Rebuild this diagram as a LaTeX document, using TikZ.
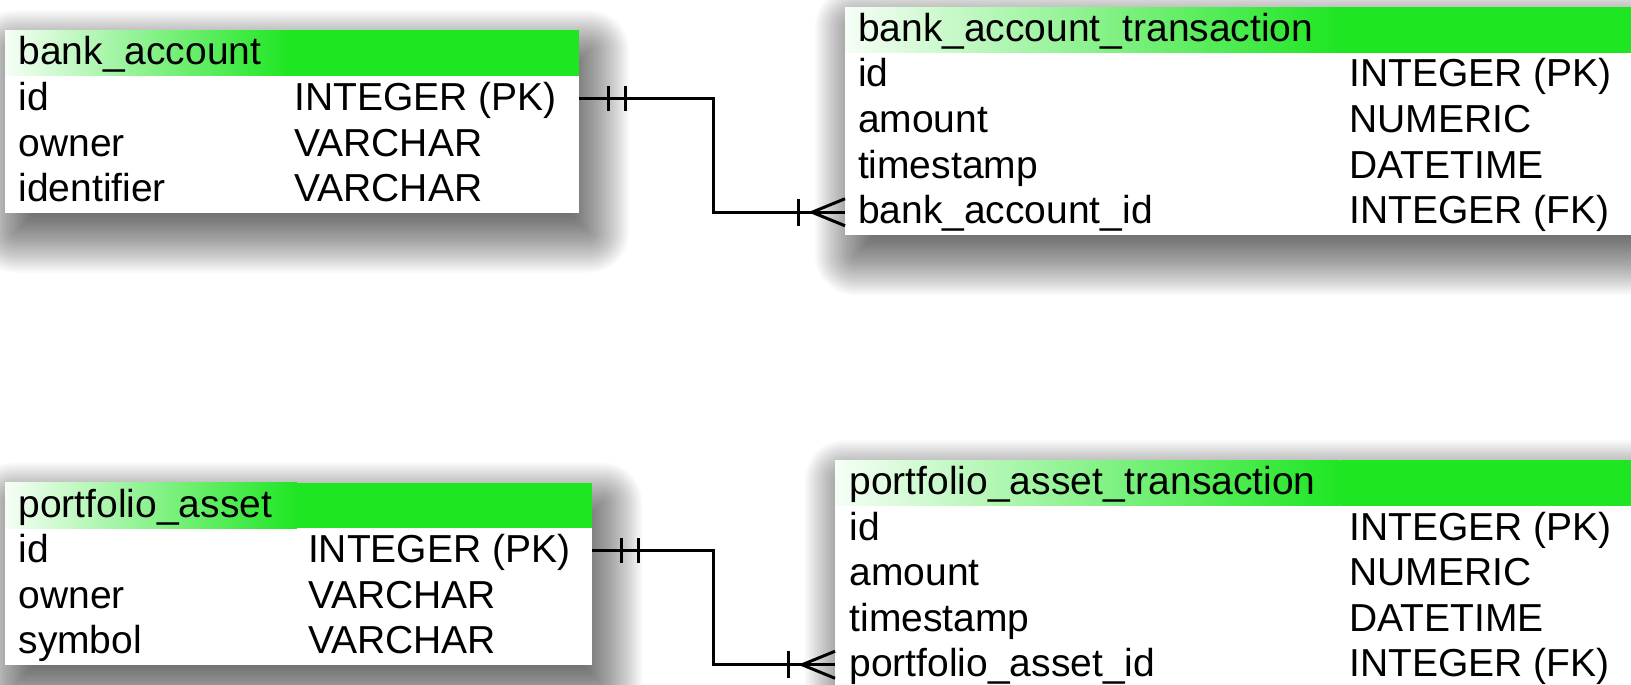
\documentclass[tikz,border=0pt]{standalone}
\usepackage{fontspec}
\setmainfont{Liberation Sans}
\usetikzlibrary{calc}
\definecolor{hdr}{RGB}{30,230,34}
\tikzset{
  tbl/.style={fill=white, inner sep=0pt, outer sep=0pt, anchor=north west},
  hdrnode/.style={anchor=north west, inner sep=0pt, outer sep=0pt, text height=34.5pt, text depth=11pt,
    left color=hdr!4!white, right color=hdr, font=\fontsize{39}{45}\selectfont},
  txt/.style={inner sep=0pt, outer sep=0pt, anchor=base west, font=\fontsize{39}{45}\selectfont},
  rel/.style={line width=3pt, black},
}
% soft drop shadow of a table node
\newcommand\tabshadow[1]{%
  \foreach \k in {0,...,39}{%
    \pgfmathsetmacro\ee{40-2*\k}%
    \pgfmathsetmacro\rc{max(\ee,0.5)}%
    \fill[black, opacity=0.023, rounded corners=\rc pt]
      ($(#1.north west)+(10-\ee,20-\ee)$) rectangle ($(#1.south east)+(10+\ee,20+\ee)$);
  }%
}
\begin{document}
\begin{tikzpicture}[x=1pt,y=-1pt]
\useasboundingbox (0,0) rectangle (1631,685);
\fill[white] (0,0) rectangle (1631,685);

% ---------- bank_account ----------
\node[tbl, minimum width=574pt, minimum height=182pt, opacity=0] (ba) at (5,30.5) {};
\tabshadow{ba}
\node[tbl, minimum width=574pt, minimum height=182pt] at (5,30.5) {};
\node[hdrnode] (bah) at (ba.north west) {\hspace*{13.5pt}bank\_account\hspace*{27pt}};
\fill[hdr] (bah.north east) rectangle ($(ba.north east)+(0,45.5)$);
\node[txt] (ba1) at (18.5,110.5) {id};
\node[txt] (ba2) at (18.5,156) {owner};
\node[txt] (ba3) at (18.5,201.5) {identifier};
\node[txt] (ba1t) at (294.5,110.5) {INTEGER (PK)};
\node[txt] (ba2t) at (294.5,156) {VARCHAR};
\node[txt] (ba3t) at (294.5,201.5) {VARCHAR};

% ---------- bank_account_transaction ----------
\node[tbl, minimum width=810pt, minimum height=227.5pt, opacity=0] (bat) at (845,7.5) {};
\tabshadow{bat}
\node[tbl, minimum width=810pt, minimum height=227.5pt] at (845,7.5) {};
\node[hdrnode] (bath) at (bat.north west) {\hspace*{13pt}bank\_account\_transaction\hspace*{25pt}};
\fill[hdr] (bath.north east) rectangle ($(bat.north east)+(0,45.5)$);
\node[txt] (bat1) at (858,87) {id};
\node[txt] (bat2) at (858,132.5) {amount};
\node[txt] (bat3) at (858,178) {timestamp};
\node[txt] (bat4) at (858,223.5) {bank\_account\_id};
\node[txt] (bat1t) at (1349.5,87) {INTEGER (PK)};
\node[txt] (bat2t) at (1349.5,132.5) {NUMERIC};
\node[txt] (bat3t) at (1349.5,178) {DATETIME};
\node[txt] (bat4t) at (1349.5,223.5) {INTEGER (FK)};

% ---------- portfolio_asset ----------
\node[tbl, minimum width=587pt, minimum height=182pt, opacity=0] (pa) at (5,482.5) {};
\tabshadow{pa}
\node[tbl, minimum width=587pt, minimum height=182pt] at (5,482.5) {};
\node[hdrnode] (pah) at (pa.north west) {\hspace*{13.5pt}portfolio\_asset\hspace*{25pt}};
\fill[hdr] (pah.north east) rectangle ($(pa.north east)+(0,45.5)$);
\node[txt] (pa1) at (18.5,562.5) {id};
\node[txt] (pa2) at (18.5,608) {owner};
\node[txt] (pa3) at (18.5,653.5) {symbol};
\node[txt] (pa1t) at (308,562.5) {INTEGER (PK)};
\node[txt] (pa2t) at (308,608) {VARCHAR};
\node[txt] (pa3t) at (308,653.5) {VARCHAR};

% ---------- portfolio_asset_transaction ----------
\node[tbl, minimum width=820pt, minimum height=227.5pt, opacity=0] (pat) at (835,460) {};
\tabshadow{pat}
\node[tbl, minimum width=820pt, minimum height=227.5pt] at (835,460) {};
\node[hdrnode] (path) at (pat.north west) {\hspace*{14.5pt}portfolio\_asset\_transaction\hspace*{25pt}};
\fill[hdr] (path.north east) rectangle ($(pat.north east)+(0,45.5)$);
\node[txt] (pat1) at (849.5,540) {id};
\node[txt] (pat2) at (849.5,585.5) {amount};
\node[txt] (pat3) at (849.5,631) {timestamp};
\node[txt] (pat4) at (849.5,676.5) {portfolio\_asset\_id};
\node[txt] (pat1t) at (1349.5,540) {INTEGER (PK)};
\node[txt] (pat2t) at (1349.5,585.5) {NUMERIC};
\node[txt] (pat3t) at (1349.5,631) {DATETIME};
\node[txt] (pat4t) at (1349.5,676.5) {INTEGER (FK)};

% ---------- connectors ----------
\coordinate (m) at (713,0);
\coordinate (s1) at ($(ba.north east)+(0,68.25)$);
\coordinate (e1) at ($(bat.north west)+(0,204.75)$);
\draw[rel] (s1) -| (m |- e1) -- (e1);
\draw[rel] ($(s1)+(29,-12.5)$) -- ++(0,25);
\draw[rel] ($(s1)+(46,-12.5)$) -- ++(0,25);
\draw[rel] ($(e1)+(-47,-13.5)$) -- ++(0,27);
\draw[rel] ($(e1)+(0,-13.5)$) -- ($(e1)+(-33,0)$) -- ($(e1)+(0,13.5)$);

\coordinate (s2) at ($(pa.north east)+(0,68.25)$);
\coordinate (e2) at ($(pat.north west)+(0,204.75)$);
\draw[rel] (s2) -| (m |- e2) -- (e2);
\draw[rel] ($(s2)+(29,-12.5)$) -- ++(0,25);
\draw[rel] ($(s2)+(46,-12.5)$) -- ++(0,25);
\draw[rel] ($(e2)+(-47,-13.5)$) -- ++(0,27);
\draw[rel] ($(e2)+(0,-13.5)$) -- ($(e2)+(-33,0)$) -- ($(e2)+(0,13.5)$);
\end{tikzpicture}
\end{document}
